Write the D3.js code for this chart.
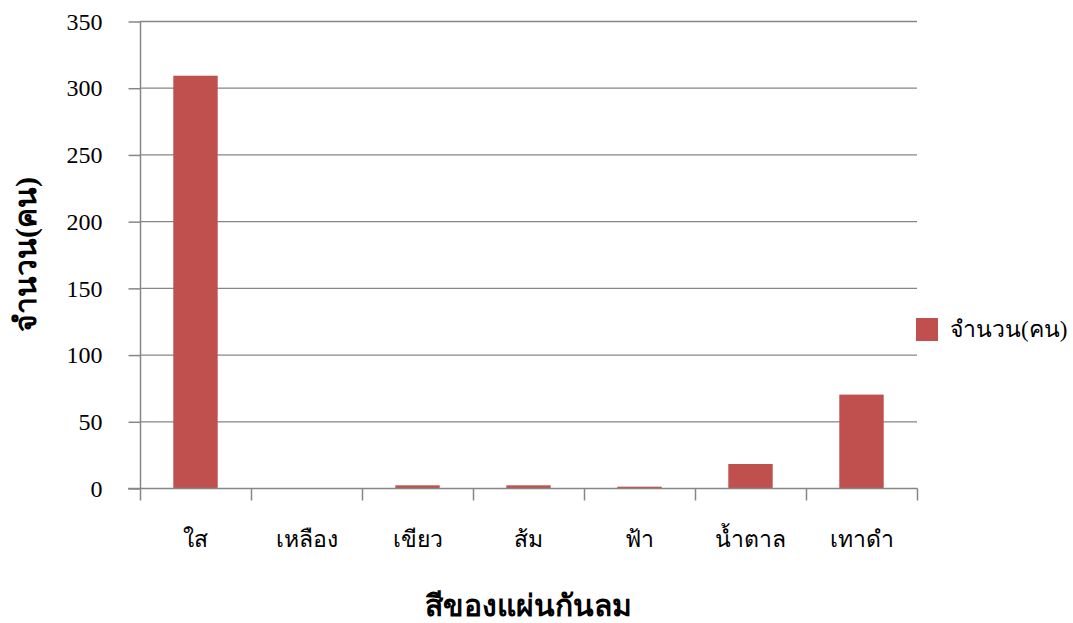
<!DOCTYPE html>
<html>
<head>
<meta charset="utf-8">
<script src="https://cdn.jsdelivr.net/npm/d3@7"></script>
<style>
  html, body { margin: 0; padding: 0; background: #fff; }
  svg text { font-family: "Liberation Serif", "Times New Roman", serif; fill: #000; }
</style>
</head>
<body>
<svg id="chart" width="1073" height="623"></svg>
<script>
// Data
const categories = ["ใส", "เหลือง", "เขียว", "ส้ม", "ฟ้า", "น้ำตาล", "เทาดำ"];
const counts = [309, 0, 2, 2, 1, 18, 70];
const yTicks = [0, 50, 100, 150, 200, 250, 300, 350];
const seriesName = "จำนวน(คน)";
const xTitle = "สีของแผ่นกันลม";
const yTitle = "จำนวน(คน)";

const svg = d3.select("#chart");
const plot = { left: 140, right: 917, top: 21, bottom: 488 };
const gridColor = "#868686";
const barColor = "#C0504D";

const x = d3.scaleBand()
  .domain(categories)
  .range([plot.left, plot.right])
  .paddingInner(0.6)
  .paddingOuter(0.3);

const xBand = d3.scaleBand().domain(categories).range([plot.left, plot.right]);

const y = d3.scaleLinear().domain([0, 350]).range([plot.bottom, plot.top]);

// Horizontal gridlines
svg.append("g")
  .selectAll("line")
  .data(yTicks.filter(d => d > 0))
  .join("line")
  .attr("x1", plot.left)
  .attr("x2", plot.right)
  .attr("y1", d => y(d) + 0.5)
  .attr("y2", d => y(d) + 0.5)
  .attr("stroke", gridColor)
  .attr("stroke-width", 1.3);

// Bars
svg.append("g")
  .selectAll("rect")
  .data(categories.map((c, i) => ({ c, v: counts[i] })))
  .join("rect")
  .attr("x", d => x(d.c))
  .attr("width", x.bandwidth())
  .attr("y", d => y(d.v))
  .attr("height", d => y(0) - y(d.v))
  .attr("fill", barColor);

// Y axis
const yAxis = d3.axisLeft(y).tickValues(yTicks).tickSize(12).tickPadding(26);
const gy = svg.append("g")
  .attr("transform", `translate(${plot.left + 0.5},0.5)`)
  .call(yAxis);
gy.select(".domain").attr("stroke", gridColor).attr("stroke-width", 1.5).attr("d", `M0,${plot.top}V${plot.bottom}`);
gy.selectAll(".tick line").attr("stroke", gridColor).attr("stroke-width", 1.5);
gy.selectAll(".tick text")
  .attr("font-size", 24)
  .attr("font-family", "Liberation Serif, serif")
  .attr("fill", "#000");

// X axis: tick marks at band boundaries
const gx = svg.append("g").attr("transform", `translate(0,${plot.bottom + 0.5})`);
gx.append("line")
  .attr("x1", plot.left - 12).attr("x2", plot.right + 0.5)
  .attr("stroke", gridColor).attr("stroke-width", 1.5);
const boundaries = categories.map(c => xBand(c)).concat([plot.right]);
gx.selectAll(".bt")
  .data(boundaries)
  .join("line")
  .attr("class", "bt")
  .attr("x1", d => d + 0.5).attr("x2", d => d + 0.5)
  .attr("y1", 0).attr("y2", 12)
  .attr("stroke", gridColor).attr("stroke-width", 1.5);
gx.selectAll("text")
  .data(categories)
  .join("text")
  .attr("x", d => xBand(d) + xBand.bandwidth() / 2)
  .attr("y", 58)
  .attr("text-anchor", "middle")
  .attr("font-size", 23)
  .text(d => d);

// Axis titles
svg.append("text")
  .attr("x", (plot.left + plot.right) / 2)
  .attr("y", 616)
  .attr("text-anchor", "middle")
  .attr("font-size", 30)
  .attr("font-weight", "bold")
  .text(xTitle);

svg.append("text")
  .attr("transform", `translate(36,${(plot.top + plot.bottom) / 2}) rotate(-90)`)
  .attr("text-anchor", "middle")
  .attr("font-size", 30)
  .attr("font-weight", "bold")
  .text(yTitle);

// Legend
const legend = svg.append("g").attr("transform", "translate(916,318)");
legend.append("rect").attr("width", 22).attr("height", 23).attr("fill", barColor);
legend.append("text")
  .attr("x", 34).attr("y", 19)
  .attr("font-size", 23)
  .text(seriesName);
</script>
</body>
</html>
